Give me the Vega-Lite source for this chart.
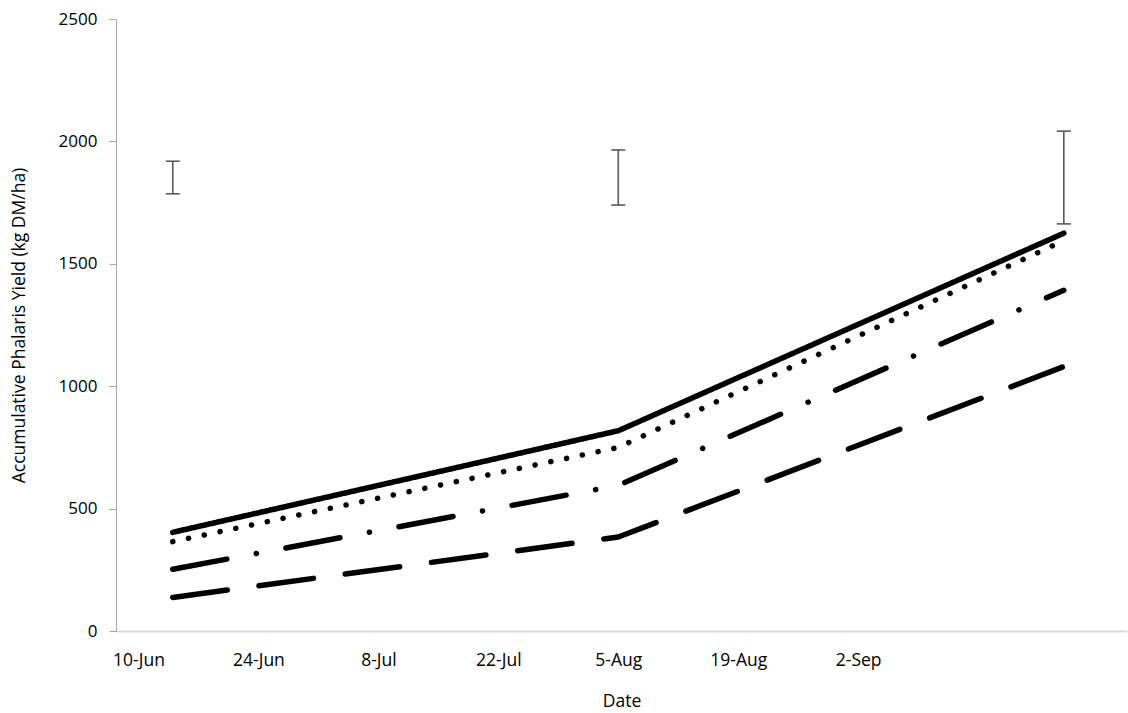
{
  "$schema": "https://vega.github.io/schema/vega-lite/v6.json",
  "width": 1011,
  "height": 612,
  "autosize": "none",
  "padding": {"left": 116, "top": 19, "right": 1, "bottom": 82},
  "config": {"view": {"stroke": null}, "font": "Open Sans"},
  "datasets": {
    "yield": [
      {"date": "2020-06-14", "treatment": "T1", "yield": 403},
      {"date": "2020-08-05", "treatment": "T1", "yield": 818},
      {"date": "2020-09-26", "treatment": "T1", "yield": 1625},
      {"date": "2020-06-14", "treatment": "T2", "yield": 365},
      {"date": "2020-08-05", "treatment": "T2", "yield": 750},
      {"date": "2020-09-26", "treatment": "T2", "yield": 1595},
      {"date": "2020-06-14", "treatment": "T3", "yield": 252},
      {"date": "2020-08-05", "treatment": "T3", "yield": 595},
      {"date": "2020-09-26", "treatment": "T3", "yield": 1392},
      {"date": "2020-06-14", "treatment": "T4", "yield": 137},
      {"date": "2020-08-05", "treatment": "T4", "yield": 384},
      {"date": "2020-09-26", "treatment": "T4", "yield": 1080}
    ],
    "err": [
      {"date": "2020-06-14", "lo": 1786, "hi": 1919},
      {"date": "2020-08-05", "lo": 1740, "hi": 1965},
      {"date": "2020-09-26", "lo": 1663, "hi": 2042}
    ]
  },
  "encoding": {
    "x": {
      "field": "date",
      "type": "temporal",
      "title": "Date",
      "scale": {
        "type": "utc",
        "domain": [
          {"year": 2020, "month": 6, "date": 7, "hours": 9, "utc": true},
          {"year": 2020, "month": 10, "date": 3, "hours": 9, "utc": true}
        ]
      },
      "axis": {
        "values": [
          {"year": 2020, "month": 6, "date": 10, "utc": true},
          {"year": 2020, "month": 6, "date": 24, "utc": true},
          {"year": 2020, "month": 7, "date": 8, "utc": true},
          {"year": 2020, "month": 7, "date": 22, "utc": true},
          {"year": 2020, "month": 8, "date": 5, "utc": true},
          {"year": 2020, "month": 8, "date": 19, "utc": true},
          {"year": 2020, "month": 9, "date": 2, "utc": true}
        ],
        "format": "%-d-%b",
        "grid": false,
        "ticks": false,
        "domainColor": "#d9d9d9",
        "domainWidth": 2,
        "labelAlign": "center",
        "labelFontSize": 17.5,
        "labelColor": "#000000",
        "labelPadding": 20,
        "titleFontSize": 17.5,
        "titleFontWeight": "normal",
        "titleColor": "#000000",
        "titlePadding": 24
      }
    }
  },
  "layer": [
    {
      "data": {"name": "err"},
      "mark": {"type": "rule", "color": "#595959", "strokeWidth": 1.6},
      "encoding": {
        "y": {"field": "lo", "type": "quantitative"},
        "y2": {"field": "hi"}
      }
    },
    {
      "data": {"name": "err"},
      "transform": [{"fold": ["lo", "hi"], "as": ["end", "value"]}],
      "mark": {"type": "tick", "orient": "horizontal", "color": "#595959", "size": 14, "thickness": 1.6, "opacity": 1},
      "encoding": {
        "y": {"field": "value", "type": "quantitative"}
      }
    },
    {
      "data": {"name": "yield"},
      "mark": {"type": "line", "strokeWidth": 5.5, "strokeCap": "round", "strokeJoin": "round", "color": "#000000"},
      "encoding": {
        "y": {
          "field": "yield",
          "type": "quantitative",
          "title": "Accumulative Phalaris Yield (kg DM/ha)",
          "scale": {"domain": [0, 2500], "nice": false},
          "axis": {
            "values": [0, 500, 1000, 1500, 2000, 2500],
            "format": "d",
            "grid": false,
            "domainColor": "#a6a6a6",
            "tickColor": "#a6a6a6",
            "tickSize": 7,
            "labelFontSize": 17,
            "labelColor": "#000000",
            "labelPadding": 12,
            "titleFontSize": 17.5,
            "titleFontWeight": "normal",
            "titleColor": "#000000",
            "titlePadding": 30
          }
        },
        "strokeDash": {
          "field": "treatment",
          "type": "nominal",
          "scale": {
            "domain": ["T1", "T2", "T3", "T4"],
            "range": [[1, 0], [0.1, 16], [55, 30, 0.1, 30], [55, 32]]
          },
          "legend": null
        }
      }
    }
  ]
}
